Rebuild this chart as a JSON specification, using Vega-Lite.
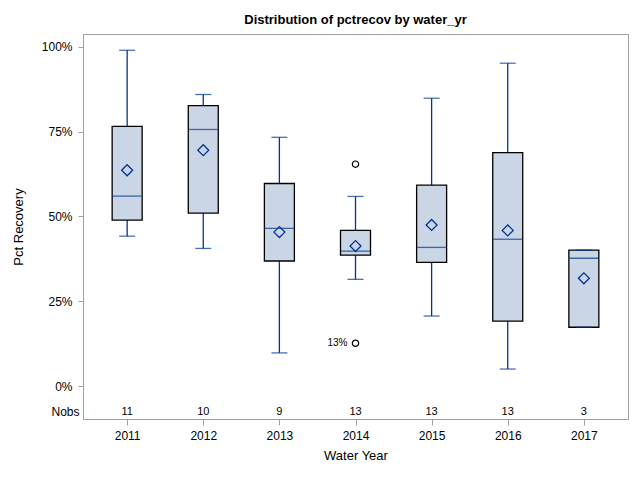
{
  "$schema": "https://vega.github.io/schema/vega-lite/v6.json",
  "autosize": "none",
  "width": 545,
  "height": 385,
  "padding": {"left": 83, "top": 34, "right": 12, "bottom": 61},
  "background": "white",
  "config": {
    "font": "Liberation Sans",
    "view": {"stroke": "#A0A0A0", "strokeWidth": 1}
  },
  "title": {
    "text": "Distribution of pctrecov by water_yr",
    "fontSize": 13,
    "fontWeight": "bold",
    "font": "Liberation Sans",
    "anchor": "middle",
    "offset": 7,
    "color": "black"
  },
  "datasets": {
    "stats": [
      {"year": "2011", "n": 11, "lower": 44.2, "q1": 48.9, "median": 56.0, "q3": 76.5, "upper": 98.9, "mean": 63.6},
      {"year": "2012", "n": 10, "lower": 40.6, "q1": 51.0, "median": 75.6, "q3": 82.6, "upper": 85.9, "mean": 69.5},
      {"year": "2013", "n": 9, "lower": 9.85, "q1": 36.9, "median": 46.5, "q3": 59.7, "upper": 73.3, "mean": 45.4},
      {"year": "2014", "n": 13, "lower": 31.5, "q1": 38.6, "median": 39.8, "q3": 45.9, "upper": 55.9, "mean": 41.3},
      {"year": "2015", "n": 13, "lower": 20.7, "q1": 36.5, "median": 40.9, "q3": 59.2, "upper": 84.8, "mean": 47.5},
      {"year": "2016", "n": 13, "lower": 5.1, "q1": 19.2, "median": 43.3, "q3": 68.8, "upper": 95.1, "mean": 45.9},
      {"year": "2017", "n": 3, "lower": 17.4, "q1": 17.4, "median": 37.7, "q3": 40.1, "upper": 40.1, "mean": 31.8}
    ],
    "outliers": [
      {"year": "2014", "value": 65.4, "label": ""},
      {"year": "2014", "value": 12.7, "label": "13%"}
    ]
  },
  "encoding": {
    "x": {
      "field": "year",
      "type": "ordinal",
      "scale": {"type": "point", "padding": 0.58},
      "axis": {
        "title": "Water Year",
        "titleFontSize": 13,
        "titleFontWeight": "normal",
        "titleColor": "black",
        "titlePadding": 8,
        "labelFontSize": 12,
        "labelColor": "black",
        "labelAngle": 0,
        "labelPadding": 5,
        "tickSize": 6,
        "tickColor": "#A0A0A0",
        "domainColor": "#A0A0A0",
        "grid": false
      }
    }
  },
  "layer": [
    {
      "mark": {"type": "rule", "color": "#A0A0A0", "strokeWidth": 1},
      "encoding": {"y": {"datum": 100, "type": "quantitative"}, "x": null}
    },
    {
      "data": {"name": "stats"},
      "mark": {"type": "rule", "color": "#003399", "strokeWidth": 1.3},
      "encoding": {
        "y": {
          "field": "lower",
          "type": "quantitative",
          "scale": {"domain": [-9.6, 103.7], "nice": false, "zero": false},
          "axis": {
            "title": "Pct Recovery",
            "titleFontSize": 13,
            "titleFontWeight": "normal",
            "titleColor": "black",
            "titlePadding": 16,
            "values": [-7.4, 0, 25, 50, 75, 100],
            "labelExpr": "datum.value < 0 ? 'Nobs' : datum.value + '%'",
            "labelFontSize": 12,
            "labelColor": "black",
            "labelPadding": {"condition": {"test": "datum.value < 0", "value": -1}, "value": 6},
            "tickSize": 5,
            "tickColor": "#A0A0A0",
            "tickOpacity": {"condition": {"test": "datum.value < 0", "value": 0}, "value": 1},
            "domainColor": "#A0A0A0",
            "grid": false
          }
        },
        "y2": {"field": "upper"}
      }
    },
    {
      "data": {"name": "stats"},
      "mark": {"type": "bar", "size": 30, "fill": "#CAD5E5", "stroke": "black", "strokeWidth": 1.3},
      "encoding": {
        "y": {"field": "q1", "type": "quantitative"},
        "y2": {"field": "q3"}
      }
    },
    {
      "data": {"name": "stats"},
      "mark": {"type": "tick", "size": 16, "thickness": 1.3, "color": "#003399", "orient": "horizontal"},
      "encoding": {"y": {"field": "upper", "type": "quantitative"}}
    },
    {
      "data": {"name": "stats"},
      "mark": {"type": "tick", "size": 16, "thickness": 1.3, "color": "#003399", "orient": "horizontal"},
      "encoding": {"y": {"field": "lower", "type": "quantitative"}}
    },
    {
      "data": {"name": "stats"},
      "mark": {"type": "tick", "size": 29, "thickness": 1.3, "color": "#003399", "orient": "horizontal"},
      "encoding": {"y": {"field": "median", "type": "quantitative"}}
    },
    {
      "data": {"name": "stats"},
      "mark": {"type": "point", "shape": "diamond", "size": 120, "filled": false, "color": "#003399", "strokeWidth": 1.3, "opacity": 1},
      "encoding": {"y": {"field": "mean", "type": "quantitative"}}
    },
    {
      "data": {"name": "outliers"},
      "mark": {"type": "point", "shape": "circle", "size": 40, "filled": false, "color": "black", "strokeWidth": 1.2, "opacity": 1},
      "encoding": {"y": {"field": "value", "type": "quantitative"}}
    },
    {
      "data": {"name": "outliers"},
      "mark": {"type": "text", "align": "right", "baseline": "middle", "dx": -8, "fontSize": 10, "color": "black"},
      "encoding": {"y": {"field": "value", "type": "quantitative"}, "text": {"field": "label"}}
    },
    {
      "data": {"name": "stats"},
      "mark": {"type": "text", "baseline": "middle", "fontSize": 11, "color": "black"},
      "encoding": {"y": {"datum": -7.4, "type": "quantitative"}, "text": {"field": "n"}}
    }
  ]
}
